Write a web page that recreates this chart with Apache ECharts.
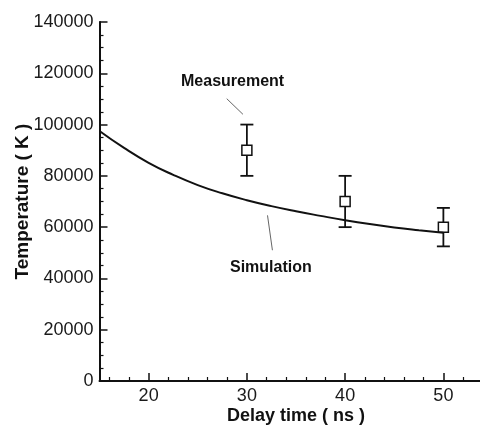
<!DOCTYPE html>
<html>
<head>
<meta charset="utf-8">
<script src="https://cdn.jsdelivr.net/npm/echarts@6/dist/echarts.min.js"></script>
<style>
html,body{margin:0;padding:0;background:#fff;}
#main{width:480px;height:426px;}
</style>
</head>
<body>
<div id="main"></div>
<script>
// simulation curve (delay time ns, temperature K)
var simX = [15, 17.5, 20, 22.5, 25, 27.5, 30, 32.5, 35, 37.5, 40, 42.5, 45, 47.5, 50];
var simY = [97500, 90900, 85100, 80400, 76400, 73200, 70500, 68200, 66200, 64400, 62700, 61200, 59900, 58800, 57800];

// measurements with error bars
var measX = [30, 40, 50];
var measY = [90000, 70000, 60000];
var measLow = [80000, 60000, 52500];
var measHigh = [100000, 80000, 67500];

var xMajorTicks = [20, 30, 40, 50];
var xMinorTicks = [16, 18, 22, 24, 26, 28, 32, 34, 36, 38, 42, 44, 46, 48, 52, 54];

var simData = [], measData = [];
for (var i = 0; i < simX.length; i++) {
    simData.push([simX[i], simY[i]]);
}
for (var i = 0; i < measX.length; i++) {
    measData.push([measX[i], measY[i], measLow[i], measHigh[i]]);
}

var myChart = echarts.init(document.getElementById('main'));
var fontFam = '"Liberation Sans", Arial, sans-serif';
var lineCol = '#111';

var option = {
    animation: false,
    backgroundColor: '#fff',
    grid: {
        left: 99.5,
        right: -12.5,
        top: 22,
        bottom: 45,
        outerBoundsMode: 'none',
        containLabel: false
    },
    xAxis: [{
        type: 'value',
        min: 15,
        max: 55,
        name: 'Delay time ( ns )',
        nameLocation: 'middle',
        nameGap: 26,
        nameMoveOverlap: false,
        nameTextStyle: {fontFamily: fontFam, fontWeight: 'bold', fontSize: 18, color: '#111'},
        axisLine: {lineStyle: {color: lineCol, width: 2}},
        axisTick: {inside: true, length: 8, customValues: xMajorTicks, lineStyle: {color: lineCol, width: 1.5}},
        axisLabel: {customValues: xMajorTicks, fontFamily: fontFam, fontSize: 18, color: '#1a1a1a', margin: 6},
        splitLine: {show: false}
    }, {
        type: 'value',
        min: 15,
        max: 55,
        position: 'bottom',
        axisLine: {show: false},
        axisTick: {inside: true, length: 4, customValues: xMinorTicks, lineStyle: {color: lineCol, width: 1.2}},
        axisLabel: {show: false},
        splitLine: {show: false}
    }],
    yAxis: {
        type: 'value',
        min: 0,
        max: 140000,
        interval: 20000,
        name: 'Temperature ( K )',
        nameLocation: 'middle',
        nameRotate: 90,
        nameGap: 67,
        nameMoveOverlap: false,
        nameTextStyle: {fontFamily: fontFam, fontWeight: 'bold', fontSize: 19, color: '#111'},
        axisLine: {show: true, lineStyle: {color: lineCol, width: 2}},
        axisTick: {show: true, inside: true, length: 8, lineStyle: {color: lineCol, width: 1.5}},
        minorTick: {show: true, splitNumber: 4, length: 4, lineStyle: {color: lineCol, width: 1.2}},
        axisLabel: {
            fontFamily: fontFam, fontSize: 18, color: '#1a1a1a', margin: 6,
            formatter: function (v) { return String(v); }
        },
        splitLine: {show: false}
    },
    series: [{
        name: 'Simulation',
        type: 'line',
        data: simData,
        smooth: true,
        showSymbol: false,
        lineStyle: {color: '#111', width: 2},
        markLine: {
            silent: true,
            symbol: 'none',
            label: {show: false},
            lineStyle: {color: '#666', width: 1, type: 'solid'},
            data: [
                [{coord: [27.95, 110100]}, {coord: [29.6, 104000]}],
                [{coord: [32.1, 64600]}, {coord: [32.6, 51000]}]
            ]
        }
    }, {
        name: 'Measurement',
        type: 'custom',
        data: measData,
        renderItem: function (params, api) {
            var x = api.value(0);
            var c = api.coord([x, api.value(1)]);
            var lo = api.coord([x, api.value(2)]);
            var hi = api.coord([x, api.value(3)]);
            var cap = 6.5, half = 5;
            var st = {stroke: '#111', lineWidth: 1.8, fill: null};
            return {
                type: 'group',
                children: [
                    {type: 'line', shape: {x1: hi[0], y1: hi[1], x2: c[0], y2: c[1] - half}, style: st},
                    {type: 'line', shape: {x1: c[0], y1: c[1] + half, x2: lo[0], y2: lo[1]}, style: st},
                    {type: 'line', shape: {x1: hi[0] - cap, y1: hi[1], x2: hi[0] + cap, y2: hi[1]}, style: st},
                    {type: 'line', shape: {x1: lo[0] - cap, y1: lo[1], x2: lo[0] + cap, y2: lo[1]}, style: st},
                    {type: 'rect', shape: {x: c[0] - half, y: c[1] - half, width: half * 2, height: half * 2},
                        style: {stroke: '#111', lineWidth: 1.5, fill: '#fff'}}
                ]
            };
        }
    }],
    graphic: [{
        type: 'text',
        left: 181,
        top: 74,
        style: {text: 'Measurement', font: 'bold 16px ' + fontFam, fill: '#111'}
    }, {
        type: 'text',
        left: 230,
        top: 260,
        style: {text: 'Simulation', font: 'bold 16px ' + fontFam, fill: '#111'}
    }]
};

myChart.setOption(option);
</script>
</body>
</html>
